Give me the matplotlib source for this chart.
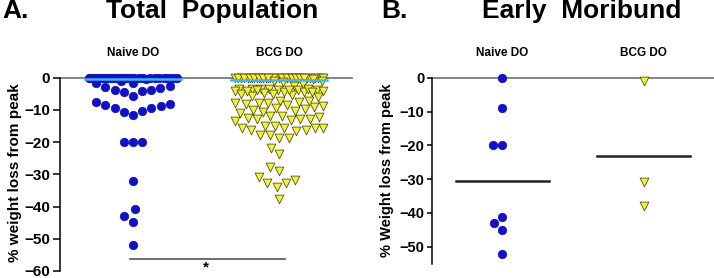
import numpy as np
import matplotlib.pyplot as plt

plt.rcParams['font.family'] = ['Liberation Sans', 'DejaVu Sans']
plt.rcParams['font.weight'] = 'bold'

groups = ['Naive DO', 'BCG DO']

# panel A: total population, % weight loss from peak
naive_total = [0.0] * 30 + [
    -0.5, -1.0,
    -1.75, -3.0, -3.8, -4.0, -5.8, -4.5, -4.1, -3.3, -2.5, -1.75,
    -8.8, -9.6, -10.6, -8.1, -11.5, -10.3, -7.7, -9.6, -8.6,
    -20.0, -20.1, -20.0, -32.0, -40.8, -43.1, -44.7, -51.9]
bcg_total = [0.0] * 35 + [
    -0.5, -1.0, -1.0, -1.5, -2.0, -2.5,
    -3.5, -3.5, -3.6, -3.7, -3.8, -3.9, -4.0, -4.0, -4.2, -4.3, -4.5,
    -4.6, -4.8, -5.0, -5.2, -5.5, -5.8, -6.0, -4.1, -3.6, -3.8, -4.4,
    -7.2, -7.5, -7.8, -8.0, -8.2, -8.5, -8.8, -9.2, -9.5, -9.8, -10.2,
    -10.5, -10.8, -11.0, -7.4, -8.0,
    -12.0, -12.3, -12.8, -12.8, -13.0, -13.6, -12.0, -12.5, -13.2,
    -14.9, -14.9, -15.8, -15.8, -15.8, -15.8, -16.2, -16.2, -16.5,
    -17.7, -17.7, -18.7, -18.7,
    -21.8, -23.8, -27.7, -29.0, -30.8, -31.8, -32.8, -32.8, -33.8, -37.7]
median_total = [-0.6, -0.8]

# panel B: early moribund
naive_mori = [0.0, -9.1, -20.0, -20.0, -41.1, -43.1, -45.1, -52.2]
bcg_mori = [-1.0, -31.0, -38.0]
line_mori = [-30.5, -23.3]

W, H = 714, 278
BLUE = '#1212c2'
YELLOW = '#f2f23c'
YEDGE = '#55550f'


def swarm(values, px_per_unit, dw, dh, half_width):
    # beeswarm with an elliptical footprint, deepest values placed first
    ys = np.asarray(values, dtype=float) * px_per_unit
    order = np.argsort(ys, kind='stable')
    xs = np.zeros(len(ys))
    placed = []

    def clash(x, y, j):
        return ((x - xs[j]) / dw) ** 2 + ((y - ys[j]) / dh) ** 2 < 1 - 1e-6

    for i in order:
        y = ys[i]
        near = [j for j in placed if abs(y - ys[j]) < dh]
        cands = [0.0]
        for j in near:
            dx = dw * np.sqrt(1 - ((y - ys[j]) / dh) ** 2)
            cands += [xs[j] - dx, xs[j] + dx]
        good = [c for c in cands if abs(c) <= half_width and
                not any(clash(c, y, j) for j in near)]
        if good:
            xs[i] = min(good, key=lambda c: (abs(c), c))
        else:
            grid = np.linspace(-half_width, half_width, 89)
            score = [min(((g - xs[j]) / dw) ** 2 + ((y - ys[j]) / dh) ** 2 for j in near)
                     for g in grid]
            xs[i] = grid[int(np.argmax(score))]
        placed.append(i)
    return xs


def make_axes(fig, left, right, top, bottom):
    return fig.add_axes([left / W, 1 - bottom / H, (right - left) / W, (bottom - top) / H])


def style(ax, ymin, ticks, labelsize, ticklen, height_px):
    ax.set_xlim(-0.5, 1.5)
    ax.set_ylim(ymin, 0)
    for s in ['top', 'right', 'bottom']:
        ax.spines[s].set_visible(False)
    ax.spines['left'].set_linewidth(1.1)
    ax.set_xticks([])
    ax.set_yticks(ticks)
    ax.tick_params(axis='y', length=ticklen, width=1.1, labelsize=labelsize, pad=2)
    ax.axhline(0, color='#7a7a7a', lw=1.3, zorder=1, clip_on=False)
    for k, g in enumerate(groups):
        ax.text(k, 1 + 25 / height_px, g, transform=ax.get_xaxis_transform(),
                ha='center', va='center', fontsize=8.5, fontweight='bold')


def draw_group(ax, x0, vals, marker, face, edge, size, ppu, width_px):
    offs = swarm(vals, ppu, 9.5, 13, 44) / (width_px / 2.0)
    ax.scatter(x0 + offs, vals, marker=marker, s=size, c=face, edgecolors=edge,
               linewidths=0.6, zorder=3, clip_on=False)


fig = plt.figure(figsize=(W / 100, H / 100), dpi=100)

ax_a = make_axes(fig, 60, 352, 77.5, 271)
ax_b = make_axes(fig, 432, 714, 77.7, 263.6)

style(ax_a, -60, range(-60, 1, 10), 11, 5, 193.5)
style(ax_b, -55, range(-50, 1, 10), 10.5, 3.5, 185.9)

ppu_a = 193.5 / 60
ppu_b = 185.9 / 55
draw_group(ax_a, 0, naive_total, 'o', BLUE, BLUE, 36, ppu_a, 292)
draw_group(ax_a, 1, bcg_total, 'v', YELLOW, YEDGE, 40, ppu_a, 292)
draw_group(ax_b, 0, naive_mori, 'o', BLUE, BLUE, 36, ppu_b, 282)
draw_group(ax_b, 1, bcg_mori, 'v', YELLOW, YEDGE, 40, ppu_b, 282)

for k, m in enumerate(median_total):
    ax_a.plot([k - 0.33, k + 0.33], [m, m], color='#3cb8ea', lw=1.8, zorder=4, clip_on=False)
for k, m in enumerate(line_mori):
    ax_b.plot([k - 0.33, k + 0.33], [m, m], color='#222222', lw=1.8, zorder=4)

ax_a.plot([-0.02, 1.04], [-56.4, -56.4], color='#555555', lw=1.2, clip_on=False)
ax_a.text(0.5, -58.8, '*', ha='center', va='center', fontsize=11, fontweight='bold')

fig.text(2 / W, 1 - 11 / H, 'A.', fontsize=19, fontweight='bold', ha='left', va='center')
fig.text(212 / W, 1 - 11 / H, 'Total  Population', fontsize=19, fontweight='bold',
         ha='center', va='center')
fig.text(381 / W, 1 - 11 / H, 'B.', fontsize=19, fontweight='bold', ha='left', va='center')
fig.text(582 / W, 1 - 11 / H, 'Early  Moribund', fontsize=19, fontweight='bold',
         ha='center', va='center')

fig.text(15 / W, 1 - 173 / H, '% weight loss from peak', rotation=90, fontsize=11,
         fontweight='bold', ha='center', va='center')
fig.text(387 / W, 1 - 170 / H, '% Weight loss from peak', rotation=90, fontsize=10.5,
         fontweight='bold', ha='center', va='center')

fig.savefig('out.png', dpi=100)
